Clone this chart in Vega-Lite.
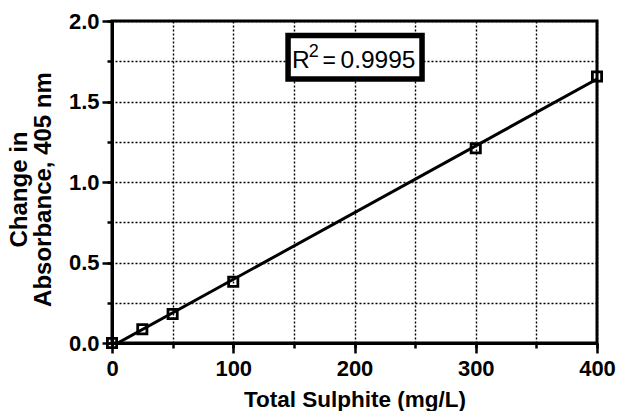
{
  "$schema": "https://vega.github.io/schema/vega-lite/v6.json",
  "width": 485,
  "height": 322,
  "autosize": {"type": "none"},
  "padding": {"left": 112, "top": 21, "right": 20, "bottom": 68},
  "background": "white",
  "config": {
    "view": {"stroke": "black", "strokeWidth": 3},
    "font": "Liberation Sans"
  },
  "datasets": {
    "points": [
      {"sulphite": 0, "absorbance": 0.0},
      {"sulphite": 25, "absorbance": 0.085},
      {"sulphite": 50, "absorbance": 0.18},
      {"sulphite": 100, "absorbance": 0.38},
      {"sulphite": 300, "absorbance": 1.21},
      {"sulphite": 400, "absorbance": 1.655}
    ],
    "annotation": [{"r": "R", "sup": "2", "eq": "=", "value": "0.9995"}]
  },
  "resolve": {"axis": {"x": "independent", "y": "independent"}},
  "layer": [
    {
      "data": {"name": "points"},
      "mark": {"type": "point", "shape": "square", "filled": false, "color": "black", "strokeWidth": 2.8, "size": 85, "opacity": 1},
      "encoding": {
        "x": {
          "field": "sulphite",
          "type": "quantitative",
          "scale": {"domain": [0, 400], "nice": false},
          "axis": {
            "orient": "top",
            "title": null,
            "values": [0, 50, 100, 150, 200, 250, 300, 350, 400],
            "labels": false,
            "ticks": false,
            "domain": false,
            "grid": true,
            "gridColor": "black",
            "gridDash": [2, 2],
            "gridWidth": 1.4,
            "gridOpacity": 1,
            "zindex": 0
          }
        },
        "y": {
          "field": "absorbance",
          "type": "quantitative",
          "scale": {"domain": [0, 2], "nice": false},
          "axis": {
            "orient": "right",
            "title": null,
            "values": [0, 0.25, 0.5, 0.75, 1, 1.25, 1.5, 1.75, 2],
            "labels": false,
            "ticks": false,
            "domain": false,
            "grid": true,
            "gridColor": "black",
            "gridDash": [2, 2],
            "gridWidth": 1.4,
            "gridOpacity": 1,
            "zindex": 0
          }
        }
      }
    },
    {
      "data": {"name": "points"},
      "transform": [{"regression": "absorbance", "on": "sulphite", "extent": [0, 400]}],
      "mark": {"type": "line", "color": "black", "strokeWidth": 3, "clip": true},
      "encoding": {
        "x": {
          "field": "sulphite",
          "type": "quantitative",
          "axis": {
            "orient": "bottom",
            "title": "Total Sulphite (mg/L)",
            "titleFont": "Liberation Sans",
            "titleFontWeight": "bold",
            "titleColor": "black",
            "titleFontSize": 22.5,
            "titleBaseline": "alphabetic",
            "titleY": 63,
            "values": [0, 50, 100, 150, 200, 250, 300, 350, 400],
            "labelExpr": "datum.value % 100 === 0 ? datum.label : ''",
            "labelFont": "Liberation Sans",
            "labelFontWeight": "bold",
            "labelFontSize": 22,
            "labelColor": "black",
            "labelOverlap": false,
            "labelBound": false,
            "labelFlush": false,
            "labelPadding": 10,
            "domainColor": "black",
            "domainWidth": 3,
            "tickColor": "black",
            "tickWidth": 2.5,
            "tickSize": 5,
            "grid": false,
            "zindex": 1
          }
        },
        "y": {
          "field": "absorbance",
          "type": "quantitative",
          "axis": {
            "orient": "left",
            "title": ["Change in", "Absorbance, 405 nm"],
            "titleFont": "Liberation Sans",
            "titleFontWeight": "bold",
            "titleColor": "black",
            "titleFontSize": 24,
            "titleLineHeight": 24,
            "titleBaseline": "middle",
            "titleAlign": "center",
            "titleAngle": -90,
            "titleX": -92.5,
            "titleY": 168,
            "values": [0, 0.25, 0.5, 0.75, 1, 1.25, 1.5, 1.75, 2],
            "format": ".1f",
            "labelExpr": "(datum.value * 2) % 1 === 0 ? datum.label : ''",
            "labelFont": "Liberation Sans",
            "labelFontWeight": "bold",
            "labelFontSize": 22,
            "labelColor": "black",
            "labelOverlap": false,
            "labelBound": false,
            "labelFlush": false,
            "labelPadding": 8,
            "domainColor": "black",
            "domainWidth": 3,
            "tickColor": "black",
            "tickWidth": 2.5,
            "tickSize": 5,
            "grid": false,
            "zindex": 1
          }
        }
      }
    },
    {
      "data": {"name": "annotation"},
      "mark": {"type": "rect", "fill": "white", "stroke": "black", "strokeWidth": 5.5},
      "encoding": {
        "x": {
          "datum": 145.2,
          "type": "quantitative",
          "axis": {
            "orient": "bottom",
            "title": null,
            "values": [0, 100, 200, 300, 400],
            "labels": false,
            "domain": false,
            "grid": false,
            "ticks": true,
            "tickColor": "black",
            "tickWidth": 2.5,
            "tickSize": 10,
            "zindex": 1
          }
        },
        "x2": {"datum": 255.7},
        "y": {
          "datum": 1.64,
          "type": "quantitative",
          "axis": {
            "orient": "left",
            "title": null,
            "values": [0, 0.5, 1, 1.5, 2],
            "labels": false,
            "domain": false,
            "grid": false,
            "ticks": true,
            "tickColor": "black",
            "tickWidth": 2.5,
            "tickSize": 10,
            "zindex": 1
          }
        },
        "y2": {"datum": 1.91}
      }
    },
    {
      "data": {"name": "annotation"},
      "mark": {"type": "text", "font": "Liberation Sans", "fontSize": 24.5, "color": "black", "align": "left", "baseline": "alphabetic"},
      "encoding": {
        "x": {"datum": 148.45, "type": "quantitative", "axis": null},
        "y": {"datum": 1.706, "type": "quantitative", "axis": null},
        "text": {"field": "r"}
      }
    },
    {
      "data": {"name": "annotation"},
      "mark": {"type": "text", "font": "Liberation Sans", "fontSize": 18, "color": "black", "align": "left", "baseline": "alphabetic"},
      "encoding": {
        "x": {"datum": 162.2, "type": "quantitative", "axis": null},
        "y": {"datum": 1.776, "type": "quantitative", "axis": null},
        "text": {"field": "sup"}
      }
    },
    {
      "data": {"name": "annotation"},
      "mark": {"type": "text", "font": "Liberation Sans", "fontSize": 23, "color": "black", "align": "center", "baseline": "alphabetic"},
      "encoding": {
        "x": {"datum": 179.2, "type": "quantitative", "axis": null},
        "y": {"datum": 1.706, "type": "quantitative", "axis": null},
        "text": {"field": "eq"}
      }
    },
    {
      "data": {"name": "annotation"},
      "mark": {"type": "text", "font": "Liberation Sans", "fontSize": 24.5, "color": "black", "align": "right", "baseline": "alphabetic"},
      "encoding": {
        "x": {"datum": 250.3, "type": "quantitative", "axis": null},
        "y": {"datum": 1.706, "type": "quantitative", "axis": null},
        "text": {"field": "value"}
      }
    }
  ]
}
